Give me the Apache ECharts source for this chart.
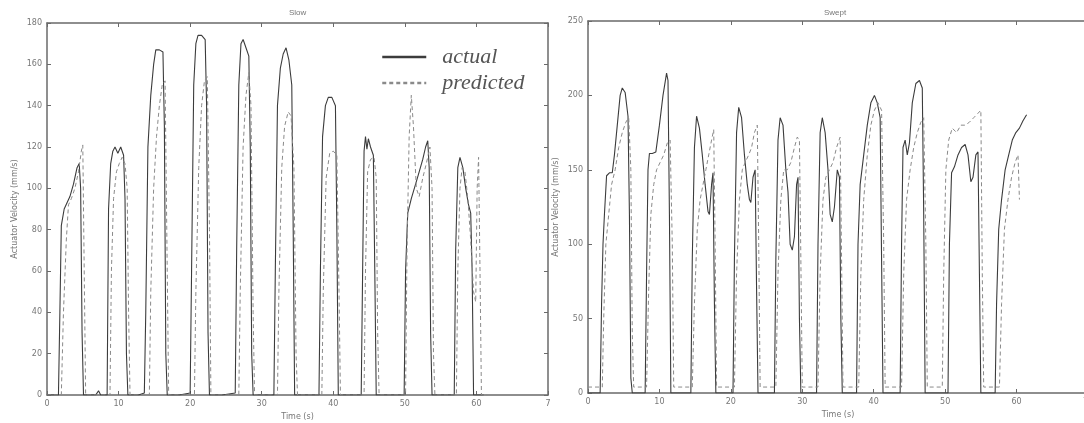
<!DOCTYPE html>
<html>
<head>
<meta charset="utf-8">
<script src="https://cdn.jsdelivr.net/npm/echarts@6/dist/echarts.min.js"></script>
<style>
html,body{margin:0;padding:0;background:#fff;}
#chart{width:1084px;height:423px;}
</style>
</head>
<body>
<div id="chart"></div>
<script>
// panel titles and tick labels
var titles = ['Slow', 'Swept'];
var slowXLabels = ['0', '10', '20', '30', '40', '50', '60', '7'];
var sweptXLabels = ['0', '10', '20', '30', '40', '50', '60', '70'];

// slow test: [time s, velocity mm/s]
var slowActual = [
  [0,0],[1.6,0],[1.8,40],[2.0,82],[2.4,90],[2.8,93],[3.2,96],[3.7,102],[4.2,110],[4.5,112],[4.7,100],[4.9,30],[5.1,0],
  [6.8,0],[7.2,2],[7.5,0],[8.4,0],[8.6,90],[8.9,112],[9.2,118],[9.5,120],[9.9,117],[10.3,120],[10.7,116],[10.9,95],[11.1,20],[11.3,0],
  [12.8,0],[13.6,1],[13.8,40],[14.1,120],[14.5,145],[14.9,160],[15.2,167],[15.7,167],[16.2,166],[16.4,130],[16.6,20],[16.8,0],
  [18.5,0],[20.0,1],[20.2,60],[20.5,150],[20.8,170],[21.1,174],[21.6,174],[22.1,172],[22.3,140],[22.5,30],[22.7,0],
  [24.5,0],[26.3,1],[26.5,70],[26.8,150],[27.1,170],[27.4,172],[27.8,168],[28.2,164],[28.4,120],[28.6,20],[28.8,0],
  [30.5,0],[31.7,0],[31.9,60],[32.2,140],[32.6,158],[33.0,165],[33.4,168],[33.8,162],[34.2,150],[34.4,80],[34.6,0],
  [36.5,0],[38.0,0],[38.2,60],[38.5,125],[38.9,140],[39.3,144],[39.8,144],[40.3,140],[40.5,80],[40.7,0],
  [42.5,0],[43.9,0],[44.1,60],[44.3,118],[44.5,125],[44.7,119],[44.9,124],[45.2,120],[45.6,116],[45.8,60],[46.0,0],
  [48.5,0],[49.9,0],[50.1,60],[50.4,88],[50.9,95],[51.5,102],[52.0,108],[52.5,114],[52.9,120],[53.2,123],[53.4,110],[53.6,30],[53.8,0],
  [55.5,0],[56.9,0],[57.1,70],[57.4,110],[57.7,115],[58.1,110],[58.5,100],[58.9,92],[59.2,88],[59.4,60],[59.6,0],[61.0,0]
];
var slowPredicted = [
  [0,0],[2.0,0],[2.3,40],[2.7,75],[3.0,92],[3.4,95],[3.9,100],[4.4,108],[4.8,118],[5.0,121],[5.2,60],[5.4,0],
  [7.5,0],[8.8,0],[9.0,60],[9.3,95],[9.7,108],[10.1,112],[10.5,115],[10.9,112],[11.2,100],[11.4,40],[11.6,0],
  [13.0,0],[14.3,0],[14.5,50],[14.9,100],[15.3,125],[15.7,140],[16.1,150],[16.5,152],[16.8,60],[17.0,0],
  [19.0,0],[20.6,0],[20.8,50],[21.2,110],[21.6,140],[22.0,152],[22.4,154],[22.7,80],[22.9,0],
  [25.0,0],[26.8,0],[27.0,50],[27.4,120],[27.8,145],[28.2,156],[28.5,140],[28.8,40],[29.0,0],
  [31.0,0],[32.2,0],[32.4,50],[32.8,110],[33.2,130],[33.7,137],[34.1,135],[34.5,110],[34.8,20],[35.0,0],
  [37.0,0],[38.4,0],[38.6,50],[39.0,105],[39.5,117],[40.0,118],[40.5,116],[40.8,50],[41.0,0],
  [43.0,0],[44.3,0],[44.5,60],[44.8,108],[45.2,114],[45.7,115],[46.0,105],[46.2,30],[46.4,0],
  [48.5,0],[50.1,0],[50.3,70],[50.6,125],[50.9,145],[51.2,130],[51.6,100],[52.0,96],[52.5,105],[53.0,112],[53.5,120],[53.8,100],[54.0,20],[54.2,0],
  [55.8,0],[57.2,0],[57.4,60],[57.7,100],[58.0,110],[58.4,108],[58.8,95],[59.2,75],[59.6,50],[59.9,45],[60.1,100],[60.3,115],[60.5,60],[60.7,0],[61.5,0]
];

// swept test: [time s, velocity mm/s]
var sweptActual = [
  [0,0],[1.7,0],[1.9,60],[2.1,100],[2.3,120],[2.6,146],[3.0,148],[3.4,148],[3.7,160],[4.1,180],[4.5,200],[4.8,205],[5.2,202],[5.6,186],[5.8,120],[6.0,10],[6.2,0],
  [8.0,0],[8.2,80],[8.4,150],[8.6,161],[9.0,161],[9.5,162],[10.0,180],[10.5,200],[11.0,215],[11.2,210],[11.4,120],[11.6,0],
  [14.4,0],[14.6,90],[14.9,165],[15.2,186],[15.6,178],[16.0,160],[16.4,140],[16.8,122],[17.0,120],[17.3,140],[17.5,148],[17.7,60],[17.9,0],
  [20.3,0],[20.5,90],[20.8,175],[21.1,192],[21.5,185],[21.9,160],[22.3,140],[22.6,130],[22.8,128],[23.1,145],[23.4,150],[23.6,70],[23.8,0],
  [26.1,0],[26.3,90],[26.6,170],[26.9,185],[27.3,180],[27.7,150],[28.0,135],[28.3,100],[28.6,96],[28.9,105],[29.2,140],[29.4,145],[29.6,50],[29.8,0],
  [32.0,0],[32.2,100],[32.5,175],[32.8,185],[33.2,175],[33.6,150],[33.9,120],[34.2,115],[34.5,125],[34.9,150],[35.2,145],[35.4,50],[35.6,0],
  [37.6,0],[37.8,100],[38.1,140],[38.6,160],[39.1,180],[39.6,195],[40.1,200],[40.5,195],[40.9,185],[41.1,90],[41.3,0],
  [43.7,0],[43.9,100],[44.1,165],[44.4,170],[44.7,160],[45.0,168],[45.4,195],[45.9,208],[46.4,210],[46.8,205],[47.0,120],[47.2,0],
  [50.4,0],[50.6,100],[50.9,148],[51.3,152],[51.8,160],[52.3,165],[52.8,167],[53.2,160],[53.6,142],[53.9,145],[54.3,160],[54.6,162],[54.8,80],[55.0,0],
  [57.0,0],[57.2,60],[57.5,110],[57.9,130],[58.4,150],[58.9,160],[59.4,170],[59.9,175],[60.4,178],[60.9,183],[61.4,187]
];
var sweptPredicted = [
  [0,4],[2.0,4],[2.2,50],[2.5,100],[2.9,120],[3.3,140],[3.8,150],[4.3,165],[4.8,175],[5.3,182],[5.7,185],[6.0,150],[6.2,40],[6.4,4],
  [8.2,4],[8.5,70],[8.8,120],[9.2,140],[9.6,150],[10.1,155],[10.6,160],[11.1,168],[11.5,170],[11.8,100],[12.0,4],
  [14.6,4],[14.9,60],[15.3,110],[15.7,130],[16.1,140],[16.5,150],[16.9,160],[17.3,170],[17.6,177],[17.8,100],[18.0,4],
  [20.5,4],[20.8,80],[21.2,130],[21.6,150],[22.0,155],[22.5,160],[22.9,165],[23.3,175],[23.7,180],[23.9,100],[24.1,4],
  [26.3,4],[26.6,80],[27.0,130],[27.4,150],[27.9,150],[28.4,155],[28.9,165],[29.3,172],[29.6,170],[29.8,90],[30.0,4],
  [32.2,4],[32.5,80],[32.9,130],[33.3,145],[33.8,150],[34.3,155],[34.8,165],[35.3,172],[35.5,90],[35.7,4],
  [37.9,4],[38.2,80],[38.6,130],[39.1,160],[39.6,180],[40.1,190],[40.6,195],[41.1,190],[41.4,100],[41.6,4],
  [43.9,4],[44.2,80],[44.6,130],[45.1,150],[45.6,165],[46.1,175],[46.6,182],[47.0,185],[47.3,100],[47.5,4],
  [49.6,4],[49.8,80],[50.1,150],[50.5,170],[51.0,178],[51.6,175],[52.2,180],[52.8,180],[53.4,182],[54.0,185],[54.6,188],[55.0,190],[55.2,80],[55.4,4],
  [57.6,4],[57.9,60],[58.3,110],[58.8,130],[59.3,145],[59.8,155],[60.2,160],[60.4,130]
];

var myChart = echarts.init(document.getElementById('chart'));

var axisCol = '#6a6a6a';
var labelStyle = {color: '#777', fontSize: 8, fontFamily: 'DejaVu Sans'};

function xAxisPair(grid, labels) {
  return [{
    type: 'value', gridIndex: grid, min: 0, max: 70, interval: 10,
    name: 'Time (s)', nameLocation: 'middle', nameGap: 17,
    nameTextStyle: labelStyle,
    axisLine: {onZero: false, lineStyle: {color: axisCol, width: 1.5}},
    axisTick: {inside: true, length: 4, lineStyle: {color: axisCol}},
    axisLabel: Object.assign({margin: 5, formatter: function (v) { return labels[v / 10]; }}, labelStyle),
    splitLine: {show: false}
  }, {
    type: 'value', gridIndex: grid, min: 0, max: 70, interval: 10, position: 'top',
    axisLine: {onZero: false, lineStyle: {color: axisCol, width: 1.5}},
    axisTick: {inside: true, length: 4, lineStyle: {color: axisCol}},
    axisLabel: {show: false},
    splitLine: {show: false}
  }];
}

function yAxisPair(grid, max, step) {
  return [{
    type: 'value', gridIndex: grid, min: 0, max: max, interval: step,
    name: 'Actuator Velocity (mm/s)', nameLocation: 'middle', nameGap: 28,
    nameTextStyle: labelStyle,
    axisLine: {show: true, onZero: false, lineStyle: {color: axisCol, width: 1.5}},
    axisTick: {show: true, inside: true, length: 4, lineStyle: {color: axisCol}},
    axisLabel: Object.assign({margin: 5}, labelStyle),
    splitLine: {show: false}
  }, {
    type: 'value', gridIndex: grid, min: 0, max: max, interval: step, position: 'right',
    axisLine: {show: true, onZero: false, lineStyle: {color: axisCol, width: 1.5}},
    axisTick: {show: true, inside: true, length: 4, lineStyle: {color: axisCol}},
    axisLabel: {show: false},
    splitLine: {show: false}
  }];
}

function lineSeries(name, data, xi, yi, dashed) {
  return {
    name: name, type: 'line', xAxisIndex: xi, yAxisIndex: yi,
    data: data, symbol: 'none', animation: false,
    lineStyle: dashed
      ? {color: '#8a8a8a', width: 1, type: [4, 3]}
      : {color: '#3c3c3c', width: 1.1},
    itemStyle: {color: dashed ? '#8a8a8a' : '#3c3c3c'}
  };
}

option = {
  backgroundColor: '#fff',
  animation: false,
  title: [
    {text: titles[0], left: 284, top: 4, textStyle: {fontSize: 8, fontWeight: 'normal', color: '#777'}},
    {text: titles[1], left: 819, top: 4, textStyle: {fontSize: 8, fontWeight: 'normal', color: '#777'}}
  ],
  legend: {
    data: ['actual', 'predicted'],
    orient: 'vertical',
    left: 376, top: 41,
    itemWidth: 44, itemHeight: 18, itemGap: 4,
    itemStyle: {opacity: 0},
    lineStyle: {width: 2.5},
    textStyle: {fontFamily: 'Liberation Serif', fontStyle: 'italic', fontSize: 22, color: '#555', padding: [0, 0, 0, 11]}
  },
  grid: [
    {left: 47, top: 23, width: 501, height: 372, outerBoundsMode: 'none'},
    {left: 588, top: 21, width: 500, height: 372, outerBoundsMode: 'none'}
  ],
  xAxis: xAxisPair(0, slowXLabels).concat(xAxisPair(1, sweptXLabels)),
  yAxis: yAxisPair(0, 180, 20).concat(yAxisPair(1, 250, 50)),
  series: [
    lineSeries('actual', slowActual, 0, 0, false),
    lineSeries('predicted', slowPredicted, 0, 0, true),
    lineSeries('actual', sweptActual, 2, 2, false),
    lineSeries('predicted', sweptPredicted, 2, 2, true)
  ]
};

myChart.setOption(option);
</script>
</body>
</html>
